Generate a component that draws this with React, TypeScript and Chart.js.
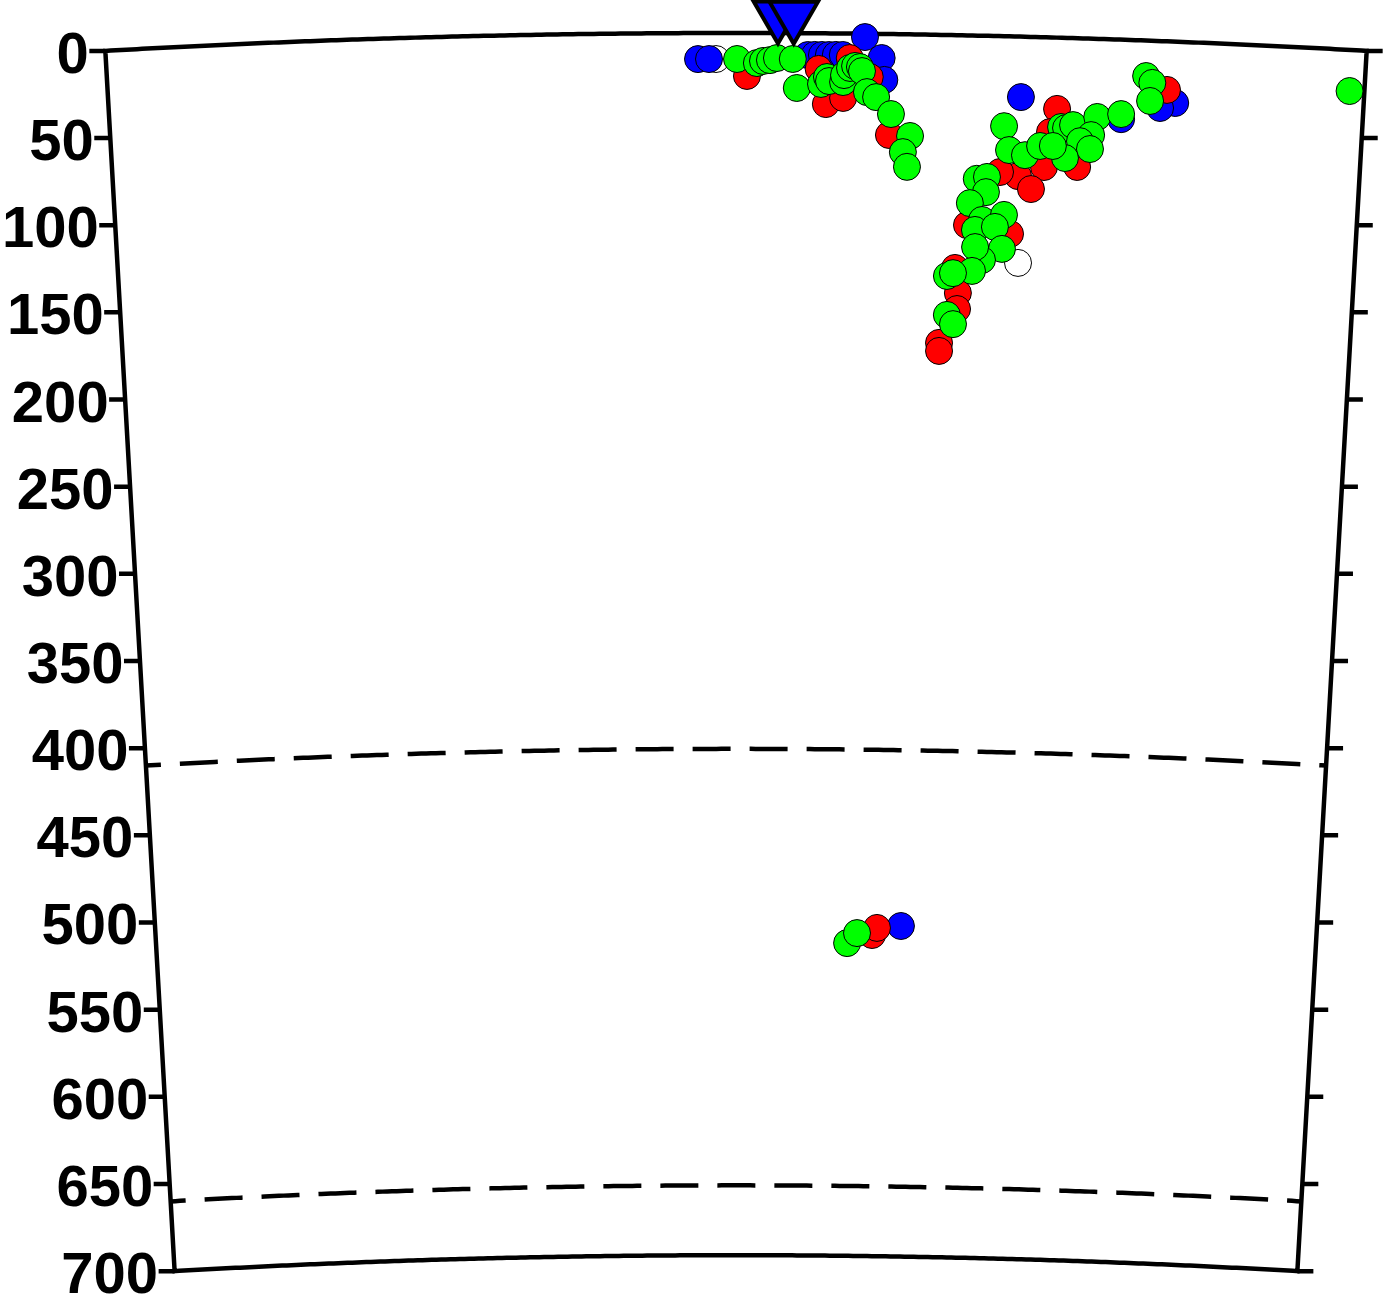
import React, { useEffect, useRef } from 'react';
import { Chart, registerables } from 'chart.js';

Chart.register(...registerables);

// ---- geometry of the section (km) ----
const EARTH_RADIUS = 6371;
const SECTION_HALF_WIDTH = 361.4; // km along the surface from the section centre
const MAX_DEPTH = 700;

// ---- tick labels / reference depths ----
const depthTicks = [0, 50, 100, 150, 200, 250, 300, 350, 400, 450, 500, 550, 600, 650, 700];
const discontinuityDepths = [410, 660];

// ---- stations (distance km along section) ----
const stationDist = [24, 33];
const STATION_PLOT_DEPTH = -10; // plotted just above the surface

// ---- hypocentres: distance along section (km) and depth (km) ----
const blueDist = [-21.8, -15.5, 41.2, 45.2, 49.3, 53.3, 57.3, 61.3, 73.9, 83.6, 85.3, 164.1, 222.2, 253.0, 244.4, 102.7];
const blueDepth = [14.9, 14.9, 12.5, 12.4, 12.4, 12.4, 12.3, 12.3, 1.9, 13.8, 26.3, 34.6, 45.5, 35.1, 38.3, 510.7];

const whiteDist = [-11.5, 164.9];
const whiteDepth = [14.9, 129.6];

const redDist = [6.3, 47.5, 51.8, 61.7, 65.3, 76.9, 88.4, 185.1, 181.4, 197.7, 178.5, 163.6, 171.3, 153.1, 134.6, 159.8, 128.1, 130.1, 129.8, 119.6, 119.7, 248.0, 84.8, 87.8];
const redDepth = [24.6, 20.4, 40.5, 36.9, 14.0, 24.7, 57.8, 40.8, 54.2, 73.7, 74.3, 79.9, 87.1, 77.8, 108.6, 113.1, 133.3, 147.6, 156.8, 176.4, 181.0, 27.8, 516.1, 512.0];

const greenDist = [
  0.6, 12.0, 15.5, 19.5, 23.5, 32.6, 35.0, 48.9, 52.3, 53.5, 61.6, 62.1, 65.5, 68.4, 71.2, 72.4, 75.4, 80.7, 89.4, 100.6, 96.6, 99.1,
  154.8, 158.0, 167.3, 175.9, 187.7, 190.6, 194.6, 208.4, 222.1, 205.2, 198.9, 204.8, 190.5, 183.3,
  139.7, 145.6, 145.2, 136.0, 143.3, 139.3, 156.0, 150.9, 155.3, 143.8, 139.6, 138.1, 123.5, 127.0, 123.9, 127.6,
  235.7, 239.4, 238.5, 352.9, 69.3, 75.4,
];
const greenDepth = [
  14.9, 17.2, 16.0, 15.5, 14.3, 14.8, 31.4, 29.0, 25.0, 27.3, 27.8, 23.8, 19.7, 18.5, 19.1, 21.4, 33.4, 36.2, 45.8, 58.2, 67.5, 75.9,
  51.5, 65.1, 67.8, 62.3, 51.1, 51.6, 49.8, 44.7, 42.6, 55.2, 58.9, 63.2, 68.8, 62.1,
  82.0, 80.8, 89.5, 96.0, 105.5, 111.3, 102.3, 109.3, 121.8, 128.4, 121.1, 134.8, 138.0, 136.3, 160.3, 165.5,
  20.3, 24.1, 34.5, 23.5, 520.9, 515.1,
];

// ---- page layout ----
const CANVAS_W = 1384;
const CANVAS_H = 1297;
const PX_PER_KM = 1.746;
const CENTER_PX = 736;
const SURFACE_PX = 33;

// (distance along section, depth) -> cartesian km (x right, y down from surface apex)
function toXY(dist: number, depth: number) {
  const th = dist / EARTH_RADIUS;
  const r = EARTH_RADIUS - depth;
  return { x: r * Math.sin(th), y: EARTH_RADIUS - r * Math.cos(th) };
}
function series(d: number[], z: number[]) {
  return d.map((v, i) => toXY(v, z[i]));
}

const framePlugin = {
  id: 'sectionFrame',
  beforeDatasetsDraw(chart: any) {
    const { ctx } = chart;
    const xs = chart.scales.x;
    const ys = chart.scales.y;
    const thMax = SECTION_HALF_WIDTH / EARTH_RADIUS;
    const pt = (r: number, th: number) => [
      xs.getPixelForValue(r * Math.sin(th)),
      ys.getPixelForValue(EARTH_RADIUS - r * Math.cos(th)),
    ];
    const N = 240;
    ctx.save();
    ctx.strokeStyle = '#000';
    ctx.fillStyle = '#000';
    ctx.lineWidth = 4.5;
    ctx.lineJoin = 'miter';
    ctx.lineCap = 'butt';

    // discontinuities (dashed arcs)
    ctx.setLineDash([38, 19]);
    ctx.lineDashOffset = 23;
    for (const d of discontinuityDepths) {
      ctx.beginPath();
      for (let i = 0; i <= N; i++) {
        const th = -thMax + (2 * thMax * i) / N;
        const [px, py] = pt(EARTH_RADIUS - d, th);
        if (i === 0) ctx.moveTo(px, py);
        else ctx.lineTo(px, py);
      }
      ctx.stroke();
    }
    ctx.setLineDash([]);

    // frame
    ctx.beginPath();
    for (let i = 0; i <= N; i++) {
      const th = -thMax + (2 * thMax * i) / N;
      const [px, py] = pt(EARTH_RADIUS, th);
      if (i === 0) ctx.moveTo(px, py);
      else ctx.lineTo(px, py);
    }
    for (let i = 0; i <= N; i++) {
      const th = thMax - (2 * thMax * i) / N;
      const [px, py] = pt(EARTH_RADIUS - MAX_DEPTH, th);
      ctx.lineTo(px, py);
    }
    ctx.closePath();
    ctx.stroke();

    // ticks + labels
    const tickLen = 16;
    ctx.beginPath();
    for (const d of depthTicks) {
      const [lx, ly] = pt(EARTH_RADIUS - d, -thMax);
      ctx.moveTo(lx, ly);
      ctx.lineTo(lx - tickLen, ly);
      const [rx, ry] = pt(EARTH_RADIUS - d, thMax);
      ctx.moveTo(rx, ry);
      ctx.lineTo(rx + tickLen, ry);
    }
    ctx.stroke();

    ctx.font = 'bold 58px "Liberation Sans", Arial, Helvetica, sans-serif';
    ctx.textAlign = 'right';
    ctx.textBaseline = 'alphabetic';
    for (const d of depthTicks) {
      const [lx, ly] = pt(EARTH_RADIUS - d, -thMax);
      ctx.fillText(String(d), lx - tickLen - 0.5, ly + 22);
    }
    ctx.restore();
  },
};

export default function App() {
  const ref = useRef<HTMLCanvasElement | null>(null);

  useEffect(() => {
    if (!ref.current) return;
    const circle = {
      pointRadius: 13.5,
      pointHoverRadius: 13.5,
      pointBorderWidth: 1,
      pointBorderColor: '#000000',
      showLine: false,
    };
    const chart = new Chart(ref.current, {
      type: 'scatter',
      data: {
        datasets: [
          {
            label: 'stations',
            data: stationDist.map((d) => toXY(d, STATION_PLOT_DEPTH)),
            pointStyle: 'triangle',
            rotation: 180,
            pointRadius: 28,
            pointHoverRadius: 28,
            pointBorderWidth: 4,
            pointBorderColor: '#000000',
            pointBackgroundColor: '#0000ff',
            order: 0,
          } as any,
          { label: 'green', data: series(greenDist, greenDepth), pointBackgroundColor: '#00ff00', order: 1, ...circle },
          { label: 'red', data: series(redDist, redDepth), pointBackgroundColor: '#ff0000', order: 2, ...circle },
          { label: 'blue', data: series(blueDist, blueDepth), pointBackgroundColor: '#0000ff', order: 3, ...circle },
          { label: 'white', data: series(whiteDist, whiteDepth), pointBackgroundColor: '#ffffff', order: 4, ...circle },
        ],
      },
      options: {
        responsive: false,
        animation: false,
        events: [],
        layout: { padding: 0, autoPadding: false },
        scales: {
          x: {
            type: 'linear',
            display: false,
            min: -CENTER_PX / PX_PER_KM,
            max: (CANVAS_W - CENTER_PX) / PX_PER_KM,
          },
          y: {
            type: 'linear',
            display: false,
            reverse: true,
            min: -SURFACE_PX / PX_PER_KM,
            max: (CANVAS_H - SURFACE_PX) / PX_PER_KM,
          },
        },
        plugins: {
          legend: { display: false },
          tooltip: { enabled: false },
        },
      },
      plugins: [framePlugin],
    });
    return () => chart.destroy();
  }, []);

  return (
    <div style={{ position: 'absolute', left: 0, top: 0, width: CANVAS_W, height: CANVAS_H, background: '#fff' }}>
      <canvas ref={ref} width={CANVAS_W} height={CANVAS_H} style={{ display: 'block' }} />
    </div>
  );
}
